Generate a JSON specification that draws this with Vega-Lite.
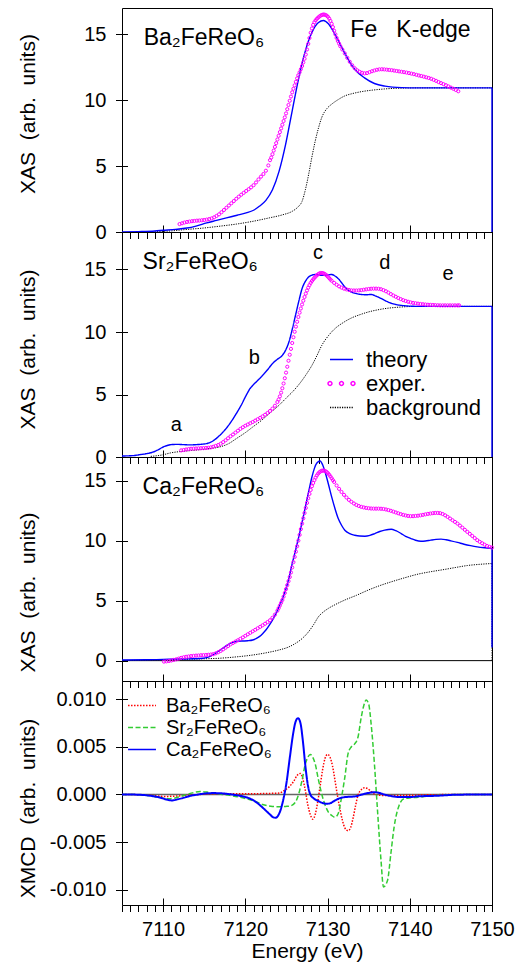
{
  "$schema": "https://vega.github.io/schema/vega-lite/v6.json",
  "background": "white",
  "padding": {"left": 17, "top": 7, "right": 5, "bottom": 5},
  "bounds": "flush",
  "spacing": 0,
  "config": {
    "font": "Liberation Sans",
    "view": {"stroke": "#000", "strokeWidth": 1},
    "axis": {
      "grid": false, "tickColor": "#000", "tickWidth": 1, "domainColor": "#000",
      "labelColor": "#000", "labelFont": "Liberation Sans", "labelFontSize": 20,
      "titleColor": "#000", "titleFont": "Liberation Sans", "titleFontSize": 21, "titleFontWeight": "normal",
      "labelFlush": false, "labelOverlap": false
    },
    "legend": {"labelFont": "Liberation Sans", "labelColor": "#000", "labelLimit": 0, "padding": 0, "rowPadding": 0, "symbolFillColor": "transparent"},
    "text": {"font": "Liberation Sans"}
  },
  "resolve": {"scale": {"color": "independent", "strokeDash": "independent", "shape": "independent"}},
  "datasets": {
    "ba_th": [
      {"E":7105,"v":0},{"E":7107,"v":0.03},{"E":7109,"v":0.08},{"E":7110,"v":0.13},{"E":7111.5,"v":0.2},{"E":7112.9,"v":0.3},
      {"E":7114,"v":0.45},{"E":7115.3,"v":0.69},{"E":7116.5,"v":0.88},{"E":7117.7,"v":1.07},{"E":7119,"v":1.27},{"E":7120.1,"v":1.45},
      {"E":7121,"v":1.65},{"E":7121.7,"v":1.95},{"E":7122.5,"v":2.4},{"E":7123.3,"v":3.2},{"E":7124.1,"v":4.6},{"E":7124.9,"v":6.65},
      {"E":7125.7,"v":9.2},{"E":7126.5,"v":11.7},{"E":7127.3,"v":13.75},{"E":7128.1,"v":15.15},{"E":7128.9,"v":15.9},{"E":7129.5,"v":16.05},
      {"E":7130.1,"v":15.8},{"E":7130.9,"v":15.0},{"E":7131.7,"v":14.05},{"E":7132.5,"v":13.1},{"E":7133.3,"v":12.35},{"E":7134.5,"v":11.7},
      {"E":7135.7,"v":11.27},{"E":7137,"v":11.07},{"E":7139,"v":10.96},{"E":7141,"v":10.94},{"E":7150,"v":10.94}
    ],
    "ba_bg": [
      {"E":7107.5,"v":0},{"E":7109,"v":0.02},{"E":7110.9,"v":0.08},{"E":7113,"v":0.2},{"E":7114.9,"v":0.3},{"E":7117,"v":0.45},
      {"E":7118.9,"v":0.6},{"E":7121,"v":0.82},{"E":7122.9,"v":1.07},{"E":7124.5,"v":1.3},{"E":7125.7,"v":1.57},{"E":7126.4,"v":1.9},
      {"E":7126.9,"v":2.33},{"E":7127.3,"v":3.2},{"E":7127.7,"v":4.37},{"E":7128.1,"v":5.7},{"E":7128.5,"v":6.9},{"E":7128.9,"v":7.9},
      {"E":7129.3,"v":8.7},{"E":7129.9,"v":9.35},{"E":7130.5,"v":9.7},{"E":7131.3,"v":10.05},{"E":7132.1,"v":10.33},{"E":7133,"v":10.5},
      {"E":7134.2,"v":10.66},{"E":7135.5,"v":10.77},{"E":7137,"v":10.86},{"E":7139,"v":10.92},{"E":7141,"v":10.94},{"E":7150,"v":10.94}
    ],
    "ba_exp": [
      {"E":7112.0,"v":0.6},{"E":7112.3,"v":0.66},{"E":7112.6,"v":0.72},{"E":7112.9,"v":0.76},{"E":7113.2,"v":0.79},{"E":7113.5,"v":0.82},
      {"E":7113.8,"v":0.84},{"E":7114.1,"v":0.86},{"E":7114.4,"v":0.87},{"E":7114.7,"v":0.89},{"E":7115.0,"v":0.91},{"E":7115.3,"v":0.94},
      {"E":7115.6,"v":0.98},{"E":7115.9,"v":1.03},{"E":7116.2,"v":1.11},{"E":7116.5,"v":1.22},{"E":7116.8,"v":1.34},{"E":7117.1,"v":1.5},
      {"E":7117.4,"v":1.67},{"E":7117.7,"v":1.84},{"E":7118.0,"v":2.01},{"E":7118.3,"v":2.18},{"E":7118.6,"v":2.35},{"E":7118.9,"v":2.52},
      {"E":7119.2,"v":2.68},{"E":7119.5,"v":2.83},{"E":7119.8,"v":2.97},{"E":7120.1,"v":3.11},{"E":7120.4,"v":3.25},{"E":7120.7,"v":3.39},
      {"E":7121.0,"v":3.55},{"E":7121.3,"v":3.76},{"E":7121.6,"v":3.99},{"E":7121.9,"v":4.2},{"E":7122.2,"v":4.4},{"E":7122.5,"v":4.65},
      {"E":7122.8,"v":5.05},{"E":7123.0,"v":5.45},{"E":7123.15,"v":5.65},{"E":7123.3,"v":5.9},{"E":7123.45,"v":6.18},{"E":7123.6,"v":6.46},
      {"E":7123.75,"v":6.74},{"E":7123.9,"v":7.02},{"E":7124.05,"v":7.3},{"E":7124.2,"v":7.58},{"E":7124.35,"v":7.86},{"E":7124.5,"v":8.14},
      {"E":7124.65,"v":8.42},{"E":7124.8,"v":8.7},{"E":7124.95,"v":9.0},{"E":7125.1,"v":9.32},{"E":7125.25,"v":9.64},{"E":7125.4,"v":9.96},
      {"E":7125.55,"v":10.28},{"E":7125.7,"v":10.6},{"E":7125.85,"v":10.87},{"E":7126.0,"v":11.13},{"E":7126.15,"v":11.4},{"E":7126.3,"v":11.66},
      {"E":7126.45,"v":11.9},{"E":7126.6,"v":12.12},{"E":7126.75,"v":12.35},{"E":7126.9,"v":12.6},{"E":7127.05,"v":12.87},{"E":7127.2,"v":13.15},
      {"E":7127.35,"v":13.47},{"E":7127.5,"v":13.85},{"E":7127.65,"v":14.28},{"E":7127.8,"v":14.72},{"E":7127.95,"v":15.12},{"E":7128.1,"v":15.45},
      {"E":7128.25,"v":15.72},{"E":7128.4,"v":15.92},{"E":7128.55,"v":16.07},{"E":7128.7,"v":16.18},{"E":7128.85,"v":16.27},{"E":7129.0,"v":16.35},
      {"E":7129.15,"v":16.42},{"E":7129.3,"v":16.47},{"E":7129.45,"v":16.5},{"E":7129.6,"v":16.5},{"E":7129.75,"v":16.47},{"E":7129.9,"v":16.42},
      {"E":7130.05,"v":16.33},{"E":7130.2,"v":16.2},{"E":7130.35,"v":16.02},{"E":7130.5,"v":15.8},{"E":7130.65,"v":15.55},{"E":7130.8,"v":15.28},
      {"E":7130.95,"v":15.0},{"E":7131.1,"v":14.73},{"E":7131.25,"v":14.5},{"E":7131.4,"v":14.3},{"E":7131.55,"v":14.1},{"E":7131.8,"v":13.85},
      {"E":7132.1,"v":13.55},{"E":7132.4,"v":13.22},{"E":7132.7,"v":12.92},{"E":7133.0,"v":12.65},{"E":7133.3,"v":12.43},{"E":7133.6,"v":12.27},
      {"E":7133.9,"v":12.16},{"E":7134.2,"v":12.08},{"E":7134.5,"v":12.04},{"E":7134.8,"v":12.06},{"E":7135.1,"v":12.13},{"E":7135.4,"v":12.2},
      {"E":7135.7,"v":12.26},{"E":7136.0,"v":12.31},{"E":7136.3,"v":12.34},{"E":7136.6,"v":12.35},{"E":7136.9,"v":12.34},{"E":7137.2,"v":12.32},
      {"E":7137.5,"v":12.3},{"E":7137.8,"v":12.28},{"E":7138.1,"v":12.25},{"E":7138.4,"v":12.22},{"E":7138.7,"v":12.19},{"E":7139.0,"v":12.16},
      {"E":7139.3,"v":12.13},{"E":7139.6,"v":12.1},{"E":7139.9,"v":12.06},{"E":7140.2,"v":12.02},{"E":7140.5,"v":11.98},{"E":7140.8,"v":11.93},
      {"E":7141.1,"v":11.88},{"E":7141.4,"v":11.84},{"E":7141.7,"v":11.79},{"E":7142.0,"v":11.74},{"E":7142.3,"v":11.69},{"E":7142.6,"v":11.63},
      {"E":7142.9,"v":11.55},{"E":7143.2,"v":11.47},{"E":7143.5,"v":11.38},{"E":7143.8,"v":11.3},{"E":7144.1,"v":11.22},{"E":7144.4,"v":11.14},
      {"E":7144.7,"v":11.05},{"E":7145.0,"v":10.96},{"E":7145.3,"v":10.87},{"E":7145.6,"v":10.78},{"E":7145.9,"v":10.68}
    ],
    "sr_th": [
      {"E":7105,"v":0.08},{"E":7106.5,"v":0.12},{"E":7107.2,"v":0.19},{"E":7108,"v":0.27},{"E":7108.8,"v":0.4},{"E":7109.4,"v":0.58},
      {"E":7110,"v":0.8},{"E":7110.6,"v":0.94},{"E":7111.2,"v":1.0},{"E":7111.8,"v":1.01},{"E":7112.45,"v":0.99},{"E":7113.2,"v":0.97},
      {"E":7114.05,"v":0.99},{"E":7114.7,"v":1.02},{"E":7115.25,"v":1.07},{"E":7115.9,"v":1.22},{"E":7116.45,"v":1.47},{"E":7117,"v":1.8},
      {"E":7117.65,"v":2.27},{"E":7118.3,"v":2.85},{"E":7118.9,"v":3.47},{"E":7119.5,"v":4.15},{"E":7120.1,"v":4.93},{"E":7120.6,"v":5.5},
      {"E":7120.9,"v":5.73},{"E":7121.5,"v":6.12},{"E":7122.1,"v":6.53},{"E":7122.7,"v":6.98},{"E":7123.3,"v":7.47},{"E":7123.9,"v":7.82},
      {"E":7124.5,"v":8.13},{"E":7124.9,"v":8.55},{"E":7125.3,"v":9.2},{"E":7125.7,"v":10.2},{"E":7126.1,"v":11.33},{"E":7126.5,"v":12.45},
      {"E":7126.9,"v":13.47},{"E":7127.3,"v":14.05},{"E":7127.7,"v":14.4},{"E":7128.1,"v":14.55},{"E":7128.5,"v":14.6},{"E":7128.9,"v":14.58},
      {"E":7129.3,"v":14.53},{"E":7129.9,"v":14.55},{"E":7130.5,"v":14.6},{"E":7130.9,"v":14.48},{"E":7131.3,"v":14.27},{"E":7131.7,"v":13.95},
      {"E":7132.1,"v":13.6},{"E":7132.5,"v":13.35},{"E":7132.9,"v":13.2},{"E":7133.5,"v":13.07},{"E":7134.1,"v":13.0},{"E":7134.7,"v":12.98},
      {"E":7135.3,"v":13.0},{"E":7135.9,"v":12.87},{"E":7136.55,"v":12.67},{"E":7137.1,"v":12.48},{"E":7137.75,"v":12.3},{"E":7138.3,"v":12.2},
      {"E":7138.95,"v":12.13},{"E":7140,"v":12.07},{"E":7141,"v":12.05},{"E":7150,"v":12.05}
    ],
    "sr_bg": [
      {"E":7108.5,"v":0.05},{"E":7110,"v":0.18},{"E":7110.85,"v":0.32},{"E":7112.8,"v":0.48},{"E":7114.85,"v":0.61},{"E":7116,"v":0.7},
      {"E":7116.85,"v":0.8},{"E":7118,"v":1.08},{"E":7118.9,"v":1.47},{"E":7120,"v":1.95},{"E":7120.9,"v":2.4},{"E":7122,"v":2.95},
      {"E":7122.9,"v":3.47},{"E":7124,"v":4.08},{"E":7124.9,"v":4.67},{"E":7126,"v":5.4},{"E":7126.9,"v":6.13},{"E":7127.5,"v":6.7},
      {"E":7128.1,"v":7.33},{"E":7128.7,"v":8.1},{"E":7129.3,"v":8.93},{"E":7130.1,"v":9.7},{"E":7130.9,"v":10.27},{"E":7131.9,"v":10.75},
      {"E":7132.9,"v":11.12},{"E":7134,"v":11.4},{"E":7134.95,"v":11.6},{"E":7136,"v":11.76},{"E":7136.95,"v":11.87},{"E":7138,"v":11.95},
      {"E":7138.95,"v":12.0},{"E":7141,"v":12.05},{"E":7150,"v":12.05}
    ],
    "sr_exp": [
      {"E":7112.2,"v":0.53},{"E":7112.5,"v":0.56},{"E":7112.8,"v":0.6},{"E":7113.1,"v":0.63},{"E":7113.4,"v":0.66},{"E":7113.7,"v":0.67},
      {"E":7114.0,"v":0.68},{"E":7114.3,"v":0.69},{"E":7114.6,"v":0.7},{"E":7114.9,"v":0.71},{"E":7115.2,"v":0.72},{"E":7115.5,"v":0.74},
      {"E":7115.8,"v":0.77},{"E":7116.1,"v":0.82},{"E":7116.4,"v":0.89},{"E":7116.7,"v":0.96},{"E":7117.0,"v":1.06},{"E":7117.3,"v":1.19},
      {"E":7117.6,"v":1.34},{"E":7117.9,"v":1.5},{"E":7118.2,"v":1.66},{"E":7118.5,"v":1.8},{"E":7118.8,"v":1.95},{"E":7119.1,"v":2.1},
      {"E":7119.4,"v":2.25},{"E":7119.7,"v":2.38},{"E":7120.0,"v":2.5},{"E":7120.3,"v":2.6},{"E":7120.6,"v":2.7},{"E":7120.9,"v":2.8},
      {"E":7121.2,"v":2.91},{"E":7121.5,"v":3.02},{"E":7121.8,"v":3.13},{"E":7122.1,"v":3.25},{"E":7122.4,"v":3.38},{"E":7122.7,"v":3.52},
      {"E":7123.0,"v":3.68},{"E":7123.3,"v":3.87},{"E":7123.6,"v":4.1},{"E":7123.9,"v":4.4},{"E":7124.05,"v":4.6},{"E":7124.2,"v":4.85},
      {"E":7124.35,"v":5.15},{"E":7124.5,"v":5.5},{"E":7124.65,"v":5.88},{"E":7124.8,"v":6.3},{"E":7124.95,"v":6.75},{"E":7125.1,"v":7.22},
      {"E":7125.25,"v":7.7},{"E":7125.4,"v":8.18},{"E":7125.55,"v":8.65},{"E":7125.7,"v":9.12},{"E":7125.85,"v":9.58},{"E":7126.0,"v":10.02},
      {"E":7126.15,"v":10.43},{"E":7126.3,"v":10.82},{"E":7126.45,"v":11.2},{"E":7126.6,"v":11.55},{"E":7126.75,"v":11.88},{"E":7126.9,"v":12.2},
      {"E":7127.05,"v":12.5},{"E":7127.2,"v":12.8},{"E":7127.35,"v":13.07},{"E":7127.5,"v":13.32},{"E":7127.65,"v":13.55},{"E":7127.8,"v":13.75},
      {"E":7127.95,"v":13.93},{"E":7128.1,"v":14.08},{"E":7128.25,"v":14.21},{"E":7128.4,"v":14.33},{"E":7128.55,"v":14.44},{"E":7128.7,"v":14.54},
      {"E":7128.85,"v":14.62},{"E":7129.0,"v":14.68},{"E":7129.15,"v":14.72},{"E":7129.3,"v":14.72},{"E":7129.45,"v":14.7},{"E":7129.6,"v":14.66},
      {"E":7129.75,"v":14.6},{"E":7129.9,"v":14.52},{"E":7130.05,"v":14.42},{"E":7130.2,"v":14.31},{"E":7130.35,"v":14.2},{"E":7130.5,"v":14.1},
      {"E":7130.8,"v":13.93},{"E":7131.1,"v":13.78},{"E":7131.4,"v":13.65},{"E":7131.7,"v":13.55},{"E":7132.0,"v":13.47},{"E":7132.3,"v":13.41},
      {"E":7132.6,"v":13.36},{"E":7132.9,"v":13.33},{"E":7133.2,"v":13.32},{"E":7133.5,"v":13.32},{"E":7133.8,"v":13.33},{"E":7134.1,"v":13.35},
      {"E":7134.4,"v":13.38},{"E":7134.7,"v":13.41},{"E":7135.0,"v":13.44},{"E":7135.3,"v":13.46},{"E":7135.6,"v":13.47},{"E":7135.9,"v":13.47},
      {"E":7136.2,"v":13.46},{"E":7136.5,"v":13.42},{"E":7136.8,"v":13.35},{"E":7137.1,"v":13.26},{"E":7137.4,"v":13.15},{"E":7137.7,"v":13.03},
      {"E":7138.0,"v":12.92},{"E":7138.3,"v":12.82},{"E":7138.6,"v":12.72},{"E":7138.9,"v":12.63},{"E":7139.2,"v":12.55},{"E":7139.5,"v":12.48},
      {"E":7139.8,"v":12.42},{"E":7140.1,"v":12.37},{"E":7140.4,"v":12.33},{"E":7140.7,"v":12.3},{"E":7141.0,"v":12.27},{"E":7141.3,"v":12.24},
      {"E":7141.6,"v":12.22},{"E":7141.9,"v":12.2},{"E":7142.2,"v":12.18},{"E":7142.5,"v":12.17},{"E":7142.8,"v":12.16},{"E":7143.1,"v":12.15},
      {"E":7143.4,"v":12.14},{"E":7143.7,"v":12.13},{"E":7144.0,"v":12.13},{"E":7144.3,"v":12.13},{"E":7144.6,"v":12.13},{"E":7144.9,"v":12.13},
      {"E":7145.2,"v":12.13},{"E":7145.5,"v":12.13},{"E":7145.8,"v":12.13},{"E":7146.0,"v":12.13}
    ],
    "ca_th": [
      {"E":7105,"v":0.05},{"E":7108,"v":0.07},{"E":7110,"v":0.1},{"E":7112.5,"v":0.14},{"E":7114.85,"v":0.2},{"E":7115.5,"v":0.3},
      {"E":7116.05,"v":0.47},{"E":7116.6,"v":0.72},{"E":7117.25,"v":1.03},{"E":7117.8,"v":1.3},{"E":7118.45,"v":1.53},{"E":7119.1,"v":1.62},
      {"E":7119.7,"v":1.64},{"E":7120.3,"v":1.66},{"E":7120.9,"v":1.72},{"E":7121.3,"v":1.83},{"E":7121.7,"v":2.0},{"E":7122.1,"v":2.25},
      {"E":7122.5,"v":2.56},{"E":7122.9,"v":2.95},{"E":7123.3,"v":3.39},{"E":7123.7,"v":3.9},{"E":7124.1,"v":4.5},{"E":7124.5,"v":5.15},
      {"E":7124.9,"v":5.89},{"E":7125.3,"v":6.9},{"E":7125.7,"v":8.1},{"E":7126.1,"v":9.2},{"E":7126.5,"v":10.33},{"E":7126.9,"v":11.55},
      {"E":7127.3,"v":12.83},{"E":7127.7,"v":14.1},{"E":7128.1,"v":15.33},{"E":7128.4,"v":16.05},{"E":7128.7,"v":16.5},{"E":7129.1,"v":16.67},
      {"E":7129.4,"v":16.35},{"E":7129.7,"v":15.75},{"E":7130.1,"v":14.75},{"E":7130.5,"v":13.67},{"E":7130.9,"v":12.7},{"E":7131.3,"v":11.86},
      {"E":7131.7,"v":11.3},{"E":7132.1,"v":10.89},{"E":7132.7,"v":10.6},{"E":7133.3,"v":10.47},{"E":7133.9,"v":10.4},{"E":7134.55,"v":10.39},
      {"E":7135.15,"v":10.46},{"E":7135.75,"v":10.61},{"E":7136.35,"v":10.78},{"E":7136.95,"v":10.89},{"E":7137.4,"v":10.95},{"E":7137.75,"v":10.97},
      {"E":7138.3,"v":10.85},{"E":7138.95,"v":10.61},{"E":7139.5,"v":10.38},{"E":7140.15,"v":10.19},{"E":7140.7,"v":10.05},{"E":7141.35,"v":9.97},
      {"E":7141.9,"v":9.99},{"E":7142.55,"v":10.06},{"E":7143.2,"v":10.12},{"E":7143.8,"v":10.14},{"E":7144.4,"v":10.09},{"E":7145,"v":10.0},
      {"E":7145.8,"v":9.87},{"E":7146.6,"v":9.72},{"E":7147.4,"v":9.6},{"E":7148.2,"v":9.5},{"E":7149.1,"v":9.42},{"E":7150,"v":9.36}
    ],
    "ca_bg": [
      {"E":7105,"v":0},{"E":7108,"v":0.04},{"E":7110,"v":0.07},{"E":7112.85,"v":0.11},{"E":7114.9,"v":0.15},{"E":7116.85,"v":0.2},
      {"E":7119,"v":0.32},{"E":7120.9,"v":0.47},{"E":7122.5,"v":0.65},{"E":7124.1,"v":0.89},{"E":7125.2,"v":1.12},{"E":7126.1,"v":1.44},
      {"E":7127,"v":1.9},{"E":7127.7,"v":2.42},{"E":7128.3,"v":3.0},{"E":7128.9,"v":3.67},{"E":7129.5,"v":4.07},{"E":7130.1,"v":4.36},
      {"E":7131,"v":4.7},{"E":7132.1,"v":5.06},{"E":7133.5,"v":5.45},{"E":7134.95,"v":5.89},{"E":7136.3,"v":6.25},{"E":7137.75,"v":6.58},
      {"E":7139.4,"v":6.92},{"E":7141,"v":7.22},{"E":7142.6,"v":7.43},{"E":7144.2,"v":7.61},{"E":7145.6,"v":7.78},{"E":7147,"v":7.94},
      {"E":7148.5,"v":8.04},{"E":7150,"v":8.11}
    ],
    "ca_exp": [
      {"E":7110.1,"v":-0.08},{"E":7110.4,"v":-0.06},{"E":7110.7,"v":-0.03},{"E":7111.0,"v":0.01},{"E":7111.3,"v":0.06},{"E":7111.6,"v":0.11},
      {"E":7111.9,"v":0.17},{"E":7112.2,"v":0.23},{"E":7112.5,"v":0.28},{"E":7112.8,"v":0.32},{"E":7113.1,"v":0.35},{"E":7113.4,"v":0.38},
      {"E":7113.7,"v":0.4},{"E":7114.0,"v":0.42},{"E":7114.3,"v":0.43},{"E":7114.6,"v":0.45},{"E":7114.9,"v":0.46},{"E":7115.2,"v":0.47},
      {"E":7115.5,"v":0.49},{"E":7115.8,"v":0.51},{"E":7116.1,"v":0.54},{"E":7116.4,"v":0.61},{"E":7116.7,"v":0.7},{"E":7117.0,"v":0.81},
      {"E":7117.3,"v":0.94},{"E":7117.6,"v":1.08},{"E":7117.9,"v":1.22},{"E":7118.2,"v":1.36},{"E":7118.5,"v":1.48},{"E":7118.8,"v":1.59},
      {"E":7119.1,"v":1.7},{"E":7119.4,"v":1.82},{"E":7119.7,"v":1.94},{"E":7120.0,"v":2.07},{"E":7120.3,"v":2.2},{"E":7120.6,"v":2.32},
      {"E":7120.9,"v":2.45},{"E":7121.2,"v":2.57},{"E":7121.5,"v":2.7},{"E":7121.8,"v":2.82},{"E":7122.1,"v":2.95},{"E":7122.4,"v":3.08},
      {"E":7122.7,"v":3.22},{"E":7123.0,"v":3.37},{"E":7123.3,"v":3.58},{"E":7123.6,"v":3.84},{"E":7123.9,"v":4.17},{"E":7124.05,"v":4.38},
      {"E":7124.2,"v":4.6},{"E":7124.35,"v":4.83},{"E":7124.5,"v":5.06},{"E":7124.65,"v":5.34},{"E":7124.8,"v":5.65},{"E":7124.95,"v":5.97},
      {"E":7125.1,"v":6.3},{"E":7125.25,"v":6.63},{"E":7125.4,"v":6.98},{"E":7125.55,"v":7.36},{"E":7125.7,"v":7.78},{"E":7125.85,"v":8.22},
      {"E":7126.0,"v":8.66},{"E":7126.15,"v":9.1},{"E":7126.3,"v":9.55},{"E":7126.45,"v":10.02},{"E":7126.6,"v":10.5},{"E":7126.75,"v":10.98},
      {"E":7126.9,"v":11.44},{"E":7127.05,"v":11.88},{"E":7127.2,"v":12.32},{"E":7127.35,"v":12.75},{"E":7127.5,"v":13.17},{"E":7127.65,"v":13.56},
      {"E":7127.8,"v":13.92},{"E":7127.95,"v":14.25},{"E":7128.1,"v":14.56},{"E":7128.25,"v":14.83},{"E":7128.4,"v":15.07},{"E":7128.55,"v":15.28},
      {"E":7128.7,"v":15.46},{"E":7128.85,"v":15.61},{"E":7129.0,"v":15.72},{"E":7129.15,"v":15.8},{"E":7129.3,"v":15.85},{"E":7129.45,"v":15.87},
      {"E":7129.6,"v":15.86},{"E":7129.75,"v":15.82},{"E":7129.9,"v":15.74},{"E":7130.05,"v":15.64},{"E":7130.2,"v":15.52},{"E":7130.35,"v":15.38},
      {"E":7130.5,"v":15.23},{"E":7130.65,"v":15.07},{"E":7130.8,"v":14.92},{"E":7131.1,"v":14.62},{"E":7131.4,"v":14.34},{"E":7131.7,"v":14.08},
      {"E":7132.0,"v":13.84},{"E":7132.3,"v":13.62},{"E":7132.6,"v":13.42},{"E":7132.9,"v":13.26},{"E":7133.2,"v":13.12},{"E":7133.5,"v":13.0},
      {"E":7133.8,"v":12.91},{"E":7134.1,"v":12.84},{"E":7134.4,"v":12.79},{"E":7134.7,"v":12.75},{"E":7135.0,"v":12.72},{"E":7135.3,"v":12.7},
      {"E":7135.6,"v":12.69},{"E":7135.9,"v":12.69},{"E":7136.2,"v":12.69},{"E":7136.5,"v":12.68},{"E":7136.8,"v":12.66},{"E":7137.1,"v":12.62},
      {"E":7137.4,"v":12.57},{"E":7137.7,"v":12.51},{"E":7138.0,"v":12.44},{"E":7138.3,"v":12.37},{"E":7138.6,"v":12.3},{"E":7138.9,"v":12.23},
      {"E":7139.2,"v":12.17},{"E":7139.5,"v":12.12},{"E":7139.8,"v":12.08},{"E":7140.1,"v":12.06},{"E":7140.4,"v":12.06},{"E":7140.7,"v":12.08},
      {"E":7141.0,"v":12.1},{"E":7141.3,"v":12.13},{"E":7141.6,"v":12.17},{"E":7141.9,"v":12.21},{"E":7142.2,"v":12.25},{"E":7142.5,"v":12.28},
      {"E":7142.8,"v":12.31},{"E":7143.1,"v":12.33},{"E":7143.4,"v":12.33},{"E":7143.7,"v":12.31},{"E":7144.0,"v":12.24},{"E":7144.3,"v":12.13},
      {"E":7144.6,"v":12.0},{"E":7144.9,"v":11.86},{"E":7145.2,"v":11.72},{"E":7145.5,"v":11.58},{"E":7145.8,"v":11.44},{"E":7146.1,"v":11.27},
      {"E":7146.4,"v":11.1},{"E":7146.7,"v":10.92},{"E":7147.0,"v":10.75},{"E":7147.3,"v":10.58},{"E":7147.6,"v":10.41},{"E":7147.9,"v":10.23},
      {"E":7148.2,"v":10.06},{"E":7148.5,"v":9.92},{"E":7148.8,"v":9.8},{"E":7149.1,"v":9.68},{"E":7149.4,"v":9.57},{"E":7149.7,"v":9.5},
      {"E":7150.0,"v":9.44}
    ],
    "xmcd_ba": [
      {"E":7105,"v":0},{"E":7107,"v":-0.00003},{"E":7108.5,"v":-0.0001},{"E":7110.1,"v":-0.00021},{"E":7111.5,"v":-0.00018},{"E":7112.9,"v":-0.0001},
      {"E":7114.5,"v":0},{"E":7116.1,"v":0.00007},{"E":7118.5,"v":0.00008},{"E":7120.9,"v":0.00007},{"E":7122.5,"v":0.0001},{"E":7124.1,"v":0.00014},
      {"E":7124.7,"v":0.0004},{"E":7125.3,"v":0.00077},{"E":7125.9,"v":0.0014},{"E":7126.3,"v":0.002},{"E":7126.7,"v":0.0022},{"E":7127.0,"v":0.0016},
      {"E":7127.3,"v":0.0004},{"E":7127.6,"v":-0.0011},{"E":7127.9,"v":-0.0021},{"E":7128.2,"v":-0.0026},{"E":7128.5,"v":-0.0021},{"E":7128.8,"v":-0.0008},
      {"E":7129.1,"v":0.0009},{"E":7129.4,"v":0.0026},{"E":7129.7,"v":0.0038},{"E":7130.0,"v":0.0042},{"E":7130.3,"v":0.0039},{"E":7130.6,"v":0.003},
      {"E":7130.9,"v":0.0015},{"E":7131.2,"v":-0.0001},{"E":7131.5,"v":-0.0015},{"E":7131.8,"v":-0.0027},{"E":7132.1,"v":-0.0035},{"E":7132.5,"v":-0.0038},
      {"E":7132.8,"v":-0.0035},{"E":7133.1,"v":-0.0025},{"E":7133.4,"v":-0.0012},{"E":7133.7,"v":-0.0001},{"E":7134.1,"v":0.0005},{"E":7134.5,"v":0.0007},
      {"E":7134.9,"v":0.0006},{"E":7135.3,"v":0.0003},{"E":7135.8,"v":0},{"E":7136.5,"v":-0.0001},{"E":7138.9,"v":-0.0001},{"E":7142.9,"v":-0.00003},
      {"E":7146,"v":0},{"E":7150,"v":0}
    ],
    "xmcd_sr": [
      {"E":7105,"v":0},{"E":7107,"v":-0.00003},{"E":7108.1,"v":-0.0001},{"E":7109.5,"v":-0.0003},{"E":7110.5,"v":-0.00045},{"E":7111.3,"v":-0.0004},
      {"E":7112.1,"v":-0.00021},{"E":7113.3,"v":0.0001},{"E":7114.5,"v":0.00031},{"E":7115.3,"v":0.00025},{"E":7116.1,"v":0.00014},{"E":7117,"v":0.00003},
      {"E":7118.1,"v":-0.0001},{"E":7119.1,"v":-0.00025},{"E":7120.1,"v":-0.00045},{"E":7121.1,"v":-0.0007},{"E":7122.1,"v":-0.00105},{"E":7123.3,"v":-0.00126},
      {"E":7124.1,"v":-0.0013},{"E":7124.9,"v":-0.00126},{"E":7125.5,"v":-0.0012},{"E":7126.1,"v":-0.0008},{"E":7126.5,"v":0.00007},{"E":7126.9,"v":0.0015},
      {"E":7127.3,"v":0.0032},{"E":7127.6,"v":0.0039},{"E":7127.9,"v":0.0042},{"E":7128.2,"v":0.0039},{"E":7128.5,"v":0.0032},{"E":7128.9,"v":0.0015},
      {"E":7129.5,"v":-0.0006},{"E":7130.1,"v":-0.00185},{"E":7130.5,"v":-0.0022},{"E":7130.9,"v":-0.0024},{"E":7131.3,"v":-0.002},{"E":7131.7,"v":-0.0003},
      {"E":7132.1,"v":0.0018},{"E":7132.5,"v":0.0043},{"E":7132.9,"v":0.005},{"E":7133.3,"v":0.0053},{"E":7133.7,"v":0.006},{"E":7134.1,"v":0.0081},
      {"E":7134.4,"v":0.0093},{"E":7134.7,"v":0.0099},{"E":7135.0,"v":0.0095},{"E":7135.3,"v":0.0074},{"E":7135.7,"v":0.0032},{"E":7136.1,"v":-0.002},
      {"E":7136.5,"v":-0.0069},{"E":7136.8,"v":-0.0097},{"E":7137.3,"v":-0.009},{"E":7137.7,"v":-0.0062},{"E":7138.1,"v":-0.0034},{"E":7138.7,"v":-0.00115},
      {"E":7139.3,"v":-0.00045},{"E":7140.1,"v":-0.00035},{"E":7141,"v":-0.0003},{"E":7141.7,"v":-0.00021},{"E":7144.1,"v":-0.00007},{"E":7147,"v":0},
      {"E":7150,"v":0}
    ],
    "xmcd_ca": [
      {"E":7105,"v":0},{"E":7107,"v":-0.00003},{"E":7108.1,"v":-0.0001},{"E":7109.7,"v":-0.00035},{"E":7110.5,"v":-0.00055},{"E":7111.1,"v":-0.00063},
      {"E":7111.8,"v":-0.0005},{"E":7112.5,"v":-0.00035},{"E":7113.3,"v":-0.00015},{"E":7114.1,"v":-0.00003},{"E":7115.1,"v":0.0001},{"E":7116.1,"v":0.00014},
      {"E":7117.7,"v":0.00007},{"E":7118.7,"v":-0.00005},{"E":7119.7,"v":-0.00021},{"E":7120.6,"v":-0.00045},{"E":7121.3,"v":-0.0008},{"E":7122.0,"v":-0.0013},
      {"E":7122.5,"v":-0.0017},{"E":7123.0,"v":-0.0021},{"E":7123.4,"v":-0.0024},{"E":7123.7,"v":-0.00245},{"E":7124.0,"v":-0.0022},{"E":7124.3,"v":-0.0016},
      {"E":7124.6,"v":-0.0006},{"E":7125.0,"v":0.0012},{"E":7125.4,"v":0.0038},{"E":7125.8,"v":0.0063},{"E":7126.1,"v":0.0076},{"E":7126.4,"v":0.008},
      {"E":7126.7,"v":0.0075},{"E":7127.0,"v":0.0056},{"E":7127.3,"v":0.003},{"E":7127.6,"v":0.001},{"E":7127.9,"v":0},{"E":7128.3,"v":-0.0004},
      {"E":7128.9,"v":-0.0007},{"E":7129.4,"v":-0.0009},{"E":7129.9,"v":-0.00098},{"E":7130.4,"v":-0.0009},{"E":7130.9,"v":-0.00063},{"E":7131.5,"v":-0.0004},
      {"E":7132.1,"v":-0.00028},{"E":7133.3,"v":-0.00021},{"E":7134.5,"v":0.00007},{"E":7135.3,"v":0.0002},{"E":7135.7,"v":0.00024},{"E":7136.3,"v":0.00015},
      {"E":7136.9,"v":0},{"E":7137.8,"v":-0.00018},{"E":7138.9,"v":-0.00028},{"E":7140,"v":-0.00028},{"E":7140.9,"v":-0.00021},{"E":7143.3,"v":-0.00014},
      {"E":7145.7,"v":-0.00003},{"E":7150,"v":0}
    ],
    "names": [
      {"panel":"Ba","E":7107.64,"v":14.22,"text":"Ba₂FeReO₆"},
      {"panel":"Ba","E":7132.77,"v":14.78,"text":"Fe\u00a0\u00a0\u00a0K-edge"},
      {"panel":"Sr","E":7107.5,"v":15.02,"text":"Sr₂FeReO₆"},
      {"panel":"Ca","E":7107.5,"v":13.94,"text":"Ca₂FeReO₆"}
    ],
    "features": [
      {"E":7111.6,"v":2.06,"text":"a"},
      {"E":7121.1,"v":7.46,"text":"b"},
      {"E":7128.85,"v":15.86,"text":"c"},
      {"E":7136.95,"v":15.02,"text":"d"},
      {"E":7144.65,"v":14.14,"text":"e"}
    ],
    "origin": [{}]
  },
  "vconcat": [
    {
      "width": 370, "height": 224,
      "resolve": {"axis": {"x": "independent", "y": "independent"}},
      "layer": [
        {
          "data": {"name": "ba_bg"},
          "mark": {"type": "line", "interpolate": "monotone", "color": "#000", "strokeWidth": 1, "strokeDash": [1.2, 1.2]},
          "encoding": {
            "x": {"field": "E", "type": "quantitative", "scale": {"domain": [7105, 7150], "nice": false, "zero": false},
                  "axis": {"orient": "bottom", "values": [7110, 7120, 7130, 7140, 7150], "offset": -7, "tickSize": 13.5, "domain": false, "labels": false, "title": null}},
            "y": {"field": "v", "type": "quantitative", "scale": {"domain": [0, 17], "nice": false, "zero": false},
                  "axis": {"orient": "left", "values": [0, 5, 10, 15], "format": "d", "title": "XAS\u00a0 (arb.\u00a0 units)", "titleX": -93, "titleY": 105.5, "titleAngle": 270,
                           "titleBaseline": "alphabetic", "titleAlign": "center", "offset": -5.5, "tickSize": 12, "domain": false, "labelPadding": 9.5}}
          }
        },
        {
          "data": {"name": "ba_th"},
          "mark": {"type": "line", "interpolate": "monotone", "color": "#0000ff", "strokeWidth": 1.4},
          "encoding": {
            "x": {"field": "E", "type": "quantitative",
                  "axis": {"orient": "bottom", "values": [7105,7106,7107,7108,7109,7110,7111,7112,7113,7114,7115,7116,7117,7118,7119,7120,7121,7122,7123,7124,7125,7126,7127,7128,7129,7130,7131,7132,7133,7134,7135,7136,7137,7138,7139,7140,7141,7142,7143,7144,7145,7146,7147,7148,7149,7150],
                           "tickSize": 6.5, "domain": false, "labels": false, "title": null}},
            "y": {"field": "v", "type": "quantitative", "axis": null}
          }
        },
        {
          "data": {"name": "ba_th"},
          "transform": [{"filter": "datum.E >= 7150"}],
          "mark": {"type": "rule", "color": "#0000ff", "strokeWidth": 1.4},
          "encoding": {
            "x": {"field": "E", "type": "quantitative", "axis": null},
            "y": {"field": "v", "type": "quantitative", "axis": null},
            "y2": {"datum": 0}
          }
        },
        {
          "data": {"name": "ba_exp"},
          "mark": {"type": "point", "shape": "circle", "filled": false, "size": 10, "strokeWidth": 1, "color": "#ff00ff", "opacity": 1},
          "encoding": {
            "x": {"field": "E", "type": "quantitative", "axis": null},
            "y": {"field": "v", "type": "quantitative", "axis": null}
          }
        },
        {
          "data": {"name": "names"},
          "transform": [{"filter": "datum.panel === 'Ba'"}],
          "mark": {"type": "text", "align": "left", "baseline": "alphabetic", "fontSize": 23, "color": "#000"},
          "encoding": {
            "x": {"field": "E", "type": "quantitative", "axis": null},
            "y": {"field": "v", "type": "quantitative", "axis": null},
            "text": {"field": "text"}
          }
        }
      ]
    },
    {
      "width": 370, "height": 225,
      "resolve": {"axis": {"x": "independent", "y": "independent"}},
      "layer": [
        {
          "data": {"name": "sr_bg"},
          "mark": {"type": "line", "interpolate": "monotone", "strokeWidth": 1},
          "encoding": {
            "x": {"field": "E", "type": "quantitative", "scale": {"domain": [7105, 7150], "nice": false, "zero": false},
                  "axis": {"orient": "bottom", "values": [7110, 7120, 7130, 7140, 7150], "offset": -7, "tickSize": 13.5, "domain": false, "labels": false, "title": null}},
            "y": {"field": "v", "type": "quantitative", "scale": {"domain": [0, 18], "nice": false, "zero": false},
                  "axis": {"orient": "left", "values": [0, 5, 10, 15], "format": "d", "title": "XAS\u00a0 (arb.\u00a0 units)", "titleX": -93, "titleY": 117, "titleAngle": 270,
                           "titleBaseline": "alphabetic", "titleAlign": "center", "offset": -5.5, "tickSize": 12, "domain": false, "labelPadding": 9.5}},
            "color": {"datum": "background", "type": "nominal",
                      "scale": {"domain": ["theory", "exper.", "background"], "range": ["#0000ff", "#ff00ff", "#000000"]},
                      "legend": {"title": null, "orient": "none", "legendX": 207, "legendY": 115, "symbolSize": 529, "symbolStrokeWidth": 1.5,
                                 "symbolFillColor": "transparent", "labelFontSize": 22, "labelOffset": 12, "rowPadding": 0, "padding": 0}},
            "strokeDash": {"datum": "background", "type": "nominal",
                           "scale": {"domain": ["theory", "exper.", "background"], "range": [[1, 0], [1, 0], [1.2, 1.2]]},
                           "legend": {"title": null, "orient": "none", "legendX": 207, "legendY": 115, "symbolSize": 529, "symbolStrokeWidth": 1.5,
                                      "symbolFillColor": "transparent", "labelFontSize": 22, "labelOffset": 12, "rowPadding": 0, "padding": 0}}
          }
        },
        {
          "data": {"name": "sr_th"},
          "mark": {"type": "line", "interpolate": "monotone", "strokeWidth": 1.4},
          "encoding": {
            "x": {"field": "E", "type": "quantitative",
                  "axis": {"orient": "bottom", "values": [7105,7106,7107,7108,7109,7110,7111,7112,7113,7114,7115,7116,7117,7118,7119,7120,7121,7122,7123,7124,7125,7126,7127,7128,7129,7130,7131,7132,7133,7134,7135,7136,7137,7138,7139,7140,7141,7142,7143,7144,7145,7146,7147,7148,7149,7150],
                           "tickSize": 6.5, "domain": false, "labels": false, "title": null}},
            "y": {"field": "v", "type": "quantitative", "axis": null},
            "color": {"datum": "theory", "type": "nominal"},
            "strokeDash": {"datum": "theory", "type": "nominal"}
          }
        },
        {
          "data": {"name": "sr_th"},
          "transform": [{"filter": "datum.E >= 7150"}],
          "mark": {"type": "rule", "color": "#0000ff", "strokeWidth": 1.4},
          "encoding": {
            "x": {"field": "E", "type": "quantitative", "axis": null},
            "y": {"field": "v", "type": "quantitative", "axis": null},
            "y2": {"datum": 0}
          }
        },
        {
          "data": {"name": "sr_exp"},
          "mark": {"type": "point", "shape": "circle", "filled": false, "size": 10, "strokeWidth": 1, "opacity": 1},
          "encoding": {
            "x": {"field": "E", "type": "quantitative", "axis": null},
            "y": {"field": "v", "type": "quantitative", "axis": null},
            "color": {"datum": "exper.", "type": "nominal"}
          }
        },
        {
          "data": {"name": "origin"},
          "transform": [{"filter": "false"}],
          "mark": {"type": "point", "filled": false, "opacity": 1},
          "encoding": {
            "shape": {"datum": "exper.", "type": "nominal",
                      "scale": {"domain": ["theory", "exper.", "background"],
                                "range": ["stroke", "M-0.83,0A0.17,0.17,0,1,1,-1.17,0A0.17,0.17,0,1,1,-0.83,0M0.17,0A0.17,0.17,0,1,1,-0.17,0A0.17,0.17,0,1,1,0.17,0M1.17,0A0.17,0.17,0,1,1,0.83,0A0.17,0.17,0,1,1,1.17,0", "stroke"]},
                      "legend": {"title": null, "orient": "none", "legendX": 207, "legendY": 115, "symbolSize": 529, "symbolStrokeWidth": 1.5,
                                 "symbolFillColor": "transparent", "labelFontSize": 22, "labelOffset": 12, "rowPadding": 0, "padding": 0}},
            "color": {"datum": "exper.", "type": "nominal"}
          }
        },
        {
          "data": {"name": "names"},
          "transform": [{"filter": "datum.panel === 'Sr'"}],
          "mark": {"type": "text", "align": "left", "baseline": "alphabetic", "fontSize": 23, "color": "#000"},
          "encoding": {
            "x": {"field": "E", "type": "quantitative", "axis": null},
            "y": {"field": "v", "type": "quantitative", "axis": null},
            "text": {"field": "text"}
          }
        },
        {
          "data": {"name": "features"},
          "mark": {"type": "text", "align": "center", "baseline": "alphabetic", "fontSize": 20, "color": "#000"},
          "encoding": {
            "x": {"field": "E", "type": "quantitative", "axis": null},
            "y": {"field": "v", "type": "quantitative", "axis": null},
            "text": {"field": "text"}
          }
        }
      ]
    },
    {
      "width": 370, "height": 224,
      "resolve": {"axis": {"x": "independent", "y": "independent"}},
      "layer": [
        {
          "data": {"name": "origin"},
          "mark": {"type": "rule", "color": "#000", "strokeWidth": 1},
          "encoding": {
            "y": {"datum": 0, "type": "quantitative", "scale": {"domain": [-1.7, 17], "nice": false, "zero": false},
                  "axis": {"orient": "left", "values": [0, 5, 10, 15], "format": "d", "title": "XAS\u00a0 (arb.\u00a0 units)", "titleX": -93, "titleY": 135, "titleAngle": 270,
                           "titleBaseline": "alphabetic", "titleAlign": "center", "offset": -5.5, "tickSize": 12, "domain": false, "labelPadding": 9.5}}
          }
        },
        {
          "data": {"name": "ca_bg"},
          "mark": {"type": "line", "interpolate": "monotone", "color": "#000", "strokeWidth": 1, "strokeDash": [1.2, 1.2]},
          "encoding": {
            "x": {"field": "E", "type": "quantitative", "scale": {"domain": [7105, 7150], "nice": false, "zero": false},
                  "axis": {"orient": "bottom", "values": [7110, 7120, 7130, 7140, 7150], "offset": -7, "tickSize": 13.5, "domain": false, "labels": false, "title": null}},
            "y": {"field": "v", "type": "quantitative", "axis": null}
          }
        },
        {
          "data": {"name": "ca_bg"},
          "transform": [{"filter": "datum.E >= 7150"}],
          "mark": {"type": "rule", "color": "#000", "strokeWidth": 1, "strokeDash": [1.2, 1.2]},
          "encoding": {
            "x": {"field": "E", "type": "quantitative", "axis": null},
            "y": {"field": "v", "type": "quantitative", "axis": null},
            "y2": {"datum": 0}
          }
        },
        {
          "data": {"name": "ca_th"},
          "mark": {"type": "line", "interpolate": "monotone", "color": "#0000ff", "strokeWidth": 1.4},
          "encoding": {
            "x": {"field": "E", "type": "quantitative",
                  "axis": {"orient": "bottom", "values": [7105,7106,7107,7108,7109,7110,7111,7112,7113,7114,7115,7116,7117,7118,7119,7120,7121,7122,7123,7124,7125,7126,7127,7128,7129,7130,7131,7132,7133,7134,7135,7136,7137,7138,7139,7140,7141,7142,7143,7144,7145,7146,7147,7148,7149,7150],
                           "tickSize": 6.5, "domain": false, "labels": false, "title": null}},
            "y": {"field": "v", "type": "quantitative", "axis": null}
          }
        },
        {
          "data": {"name": "ca_th"},
          "transform": [{"filter": "datum.E >= 7150"}],
          "mark": {"type": "rule", "color": "#0000ff", "strokeWidth": 1.4},
          "encoding": {
            "x": {"field": "E", "type": "quantitative", "axis": null},
            "y": {"field": "v", "type": "quantitative", "axis": null},
            "y2": {"datum": 1.1}
          }
        },
        {
          "data": {"name": "ca_exp"},
          "mark": {"type": "point", "shape": "circle", "filled": false, "size": 10, "strokeWidth": 1, "color": "#ff00ff", "opacity": 1},
          "encoding": {
            "x": {"field": "E", "type": "quantitative", "axis": null},
            "y": {"field": "v", "type": "quantitative", "axis": null}
          }
        },
        {
          "data": {"name": "names"},
          "transform": [{"filter": "datum.panel === 'Ca'"}],
          "mark": {"type": "text", "align": "left", "baseline": "alphabetic", "fontSize": 23, "color": "#000"},
          "encoding": {
            "x": {"field": "E", "type": "quantitative", "axis": null},
            "y": {"field": "v", "type": "quantitative", "axis": null},
            "text": {"field": "text"}
          }
        }
      ]
    },
    {
      "width": 370, "height": 224,
      "resolve": {"axis": {"x": "independent", "y": "independent"}},
      "layer": [
        {
          "data": {"name": "origin"},
          "mark": {"type": "rule", "color": "#666666", "strokeWidth": 1.5},
          "encoding": {
            "y": {"datum": 0, "type": "quantitative", "scale": {"domain": [-0.0116, 0.0119], "nice": false, "zero": false},
                  "axis": {"orient": "left", "values": [-0.01, -0.005, 0, 0.005, 0.01], "format": ".3f", "labelExpr": "replace(datum.label, '\u2212', '-')",
                           "title": "XMCD\u00a0 (arb.\u00a0 units)", "titleX": -93, "titleY": 127, "titleAngle": 270,
                           "titleBaseline": "alphabetic", "titleAlign": "center", "offset": -5.5, "tickSize": 12, "domain": false, "labelPadding": 9.5}}
          }
        },
        {
          "data": {"name": "xmcd_ba"},
          "mark": {"type": "line", "interpolate": "monotone", "strokeWidth": 1.5},
          "encoding": {
            "x": {"field": "E", "type": "quantitative", "scale": {"domain": [7105, 7150], "nice": false, "zero": false},
                  "axis": {"orient": "bottom", "values": [7110, 7120, 7130, 7140, 7150], "offset": -7, "tickSize": 13.5, "domain": false,
                           "format": "d", "labelPadding": 8, "title": "Energy (eV)", "titleX": 185, "titleY": 59.2, "titleBaseline": "alphabetic", "titleAlign": "center"}},
            "y": {"field": "v", "type": "quantitative", "axis": null},
            "color": {"datum": "Ba₂FeReO₆", "type": "nominal",
                      "scale": {"domain": ["Ba₂FeReO₆", "Sr₂FeReO₆", "Ca₂FeReO₆"], "range": ["#ff0000", "#33cc33", "#0000ff"]},
                      "legend": {"title": null, "orient": "none", "legendX": 8, "legendY": 12.5, "symbolType": "M-1.27,0L1.27,0", "symbolSize": 484,
                                 "symbolStrokeWidth": 1.6, "symbolFillColor": "transparent", "labelFontSize": 20, "labelOffset": 12, "rowPadding": 0, "padding": 0}},
            "strokeDash": {"datum": "Ba₂FeReO₆", "type": "nominal",
                           "scale": {"domain": ["Ba₂FeReO₆", "Sr₂FeReO₆", "Ca₂FeReO₆"], "range": [[1.5, 1.5], [5, 2.5], [1, 0]]},
                           "legend": {"title": null, "orient": "none", "legendX": 8, "legendY": 12.5, "symbolType": "M-1.27,0L1.27,0", "symbolSize": 484,
                                      "symbolStrokeWidth": 1.6, "symbolFillColor": "transparent", "labelFontSize": 20, "labelOffset": 12, "rowPadding": 0, "padding": 0}}
          }
        },
        {
          "data": {"name": "xmcd_sr"},
          "mark": {"type": "line", "interpolate": "monotone", "strokeWidth": 1.5},
          "encoding": {
            "x": {"field": "E", "type": "quantitative",
                  "axis": {"orient": "bottom", "values": [7105,7106,7107,7108,7109,7110,7111,7112,7113,7114,7115,7116,7117,7118,7119,7120,7121,7122,7123,7124,7125,7126,7127,7128,7129,7130,7131,7132,7133,7134,7135,7136,7137,7138,7139,7140,7141,7142,7143,7144,7145,7146,7147,7148,7149,7150],
                           "tickSize": 6.5, "domain": false, "labels": false, "title": null}},
            "y": {"field": "v", "type": "quantitative", "axis": null},
            "color": {"datum": "Sr₂FeReO₆", "type": "nominal"},
            "strokeDash": {"datum": "Sr₂FeReO₆", "type": "nominal"}
          }
        },
        {
          "data": {"name": "xmcd_ca"},
          "mark": {"type": "line", "interpolate": "monotone", "strokeWidth": 2},
          "encoding": {
            "x": {"field": "E", "type": "quantitative", "axis": null},
            "y": {"field": "v", "type": "quantitative", "axis": null},
            "color": {"datum": "Ca₂FeReO₆", "type": "nominal"},
            "strokeDash": {"datum": "Ca₂FeReO₆", "type": "nominal"}
          }
        }
      ]
    }
  ]
}
